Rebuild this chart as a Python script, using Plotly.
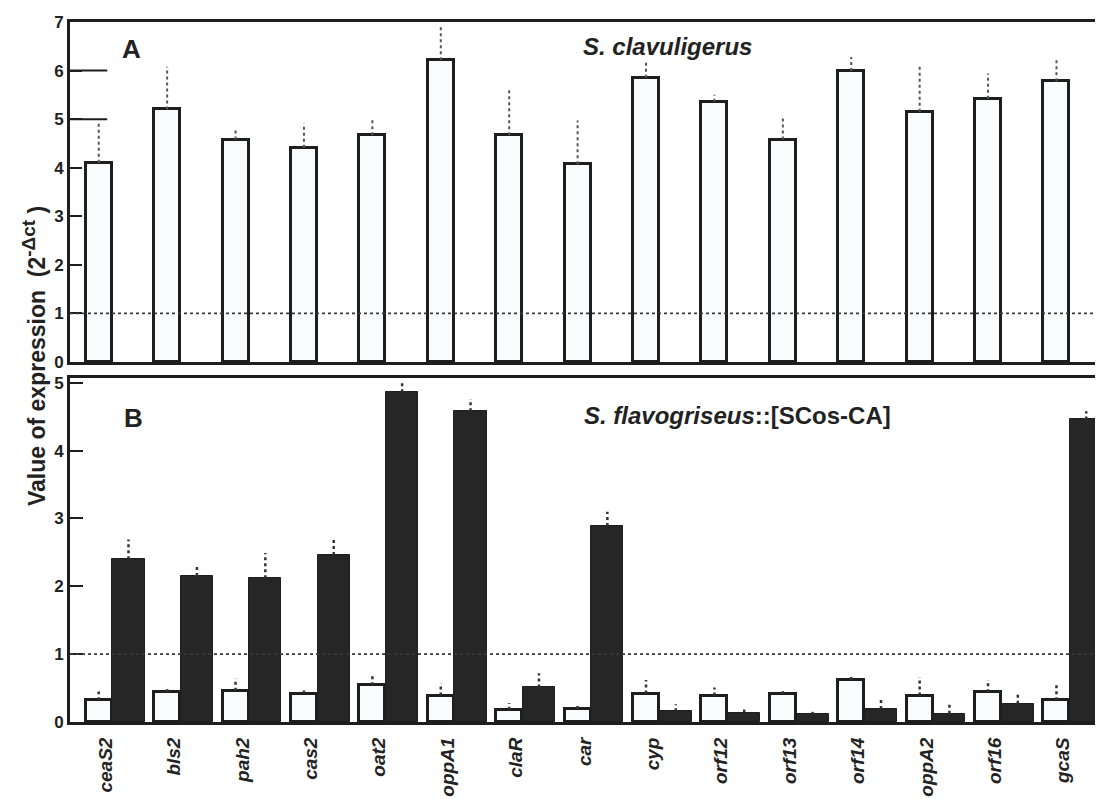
import plotly.graph_objects as go

genes = ["ceaS2", "bls2", "pah2", "cas2", "oat2", "oppA1", "claR", "car",
         "cyp", "orf12", "orf13", "orf14", "oppA2", "orf16", "gcaS"]

# Panel A: S. clavuligerus
a_vals = [4.10, 5.20, 4.58, 4.41, 4.67, 6.21, 4.67, 4.07, 5.85, 5.36, 4.58, 5.99, 5.15, 5.42, 5.78]
a_err = [0.83, 0.88, 0.25, 0.50, 0.31, 0.69, 0.96, 0.90, 0.33, 0.14, 0.48, 0.29, 0.97, 0.52, 0.48]

# Panel B: S. flavogriseus::[SCos-CA]  (white = first series, black = second series)
b_white = [0.32, 0.44, 0.46, 0.42, 0.54, 0.39, 0.18, 0.19, 0.42, 0.39, 0.41, 0.62, 0.39, 0.44, 0.32]
b_white_err = [0.13, 0.06, 0.18, 0.07, 0.14, 0.18, 0.10, 0.09, 0.20, 0.12, 0.08, 0.06, 0.27, 0.18, 0.25]
b_black = [2.40, 2.15, 2.12, 2.46, 4.86, 4.58, 0.51, 2.89, 0.16, 0.14, 0.12, 0.19, 0.12, 0.27, 4.46]
b_black_err = [0.29, 0.14, 0.37, 0.25, 0.14, 0.18, 0.21, 0.21, 0.10, 0.07, 0.03, 0.18, 0.16, 0.17, 0.12]

a_yticks = [0, 1, 2, 3, 4, 5, 6, 7]
b_yticks = [0, 1, 2, 3, 4, 5]

FONT = "Liberation Sans, Arial, sans-serif"
WHITE = "#f9fcfc"
DARK = "#262626"
EDGE = "#1e1e1e"

idx = list(range(len(genes)))
W_OFF, W_W = -0.19, 0.38
K_OFF, K_W = 0.20, 0.47


def err_lines(xs, vals, errs):
    x, y = [], []
    for xi, v, e in zip(xs, vals, errs):
        x += [xi, xi, None]
        y += [v, v + e, None]
    return x, y


fig = go.Figure()

# Panel A bars
fig.add_trace(go.Bar(x=idx, y=a_vals, offset=W_OFF, width=W_W,
                     marker=dict(color=WHITE, line=dict(color=EDGE, width=3)),
                     xaxis="x", yaxis="y", showlegend=False))
ex, ey = err_lines(idx, a_vals, a_err)
fig.add_trace(go.Scatter(x=ex, y=ey, mode="lines",
                         line=dict(color="#555555", width=2, dash="dot"),
                         xaxis="x", yaxis="y", showlegend=False))

# Panel B bars
fig.add_trace(go.Bar(x=idx, y=b_white, offset=W_OFF, width=W_W,
                     marker=dict(color=WHITE, line=dict(color=EDGE, width=3)),
                     xaxis="x2", yaxis="y2", showlegend=False))
fig.add_trace(go.Bar(x=idx, y=b_black, offset=K_OFF, width=K_W,
                     marker=dict(color=DARK, line=dict(color=EDGE, width=1)),
                     xaxis="x2", yaxis="y2", showlegend=False))
ex, ey = err_lines(idx, b_white, b_white_err)
fig.add_trace(go.Scatter(x=ex, y=ey, mode="lines",
                         line=dict(color="#333333", width=2.5, dash="dot"),
                         xaxis="x2", yaxis="y2", showlegend=False))
kx = [i + K_OFF + K_W / 2 for i in idx]
ex, ey = err_lines(kx, b_black, b_black_err)
fig.add_trace(go.Scatter(x=ex, y=ey, mode="lines",
                         line=dict(color="#333333", width=2.5, dash="dot"),
                         xaxis="x2", yaxis="y2", showlegend=False))

# page offset of the plot div (default 8px body margin)
OX, OY = 8, 8
H, Wd = 799, 1103
L_PX, R_PX = 70, 1103          # plot area left/right in page pixels
PW = R_PX - L_PX


def py(p):
    return 1 - (p - OY) / H


def px(p):
    return (p - L_PX) / PW


domA = [py(362), py(22)]
domB = [py(722), py(378)]
xr = [-0.42, 14.68]

axis_line = dict(showline=True, linecolor=EDGE, linewidth=3, showgrid=False, zeroline=False,
                 automargin=False)
tick_font = dict(size=17, family=FONT, weight="bold", color="#222222")

fig.update_layout(
    width=Wd, height=H,
    margin=dict(l=L_PX - OX, r=Wd - (R_PX - OX), t=0, b=0, autoexpand=False),
    paper_bgcolor="white", plot_bgcolor="white",
    bargap=0,
    font=dict(family=FONT, color="#222222"),
    xaxis=dict(domain=[0, 1], anchor="y", range=xr, mirror=True, showticklabels=False,
               ticks="", **axis_line),
    yaxis=dict(domain=domA, anchor="x", range=[0, 7], tickvals=a_yticks,
               ticks="inside", ticklen=12, tickwidth=2, tickcolor=EDGE,
               ticklabelstandoff=0, tickfont=tick_font, **axis_line),
    xaxis2=dict(domain=[0, 1], anchor="y2", range=xr, mirror=True,
                tickvals=[i + 0.1 for i in idx], ticktext=genes, tickangle=-90,
                ticks="", ticklabelstandoff=5,
                tickfont=dict(size=19, family=FONT, weight="bold", style="italic", color="#222222"),
                **axis_line),
    yaxis2=dict(domain=domB, anchor="x2", range=[0, 5.07], tickvals=b_yticks,
                ticks="inside", ticklen=13, tickwidth=2, tickcolor=EDGE,
                ticklabelstandoff=0, tickfont=tick_font, **axis_line),
)

# reference lines at 1 (dotted)
for xa, ya in (("x", "y"), ("x2", "y2")):
    fig.add_shape(type="line", xref=f"{xa} domain", yref=ya, x0=0, x1=1, y0=1, y1=1,
                  line=dict(color="#3a3a3a", width=1.8, dash="dot"), layer="above")

# long ticks at 5 and 6 in panel A
for t in (5, 6):
    fig.add_shape(type="line", xref="x domain", yref="y", x0=0, x1=0.036, y0=t, y1=t,
                  line=dict(color=EDGE, width=2))

ann_font = dict(family=FONT, color="#222222")
fig.add_annotation(text="<b>A</b>", xref="paper", yref="paper", x=px(131), y=py(49),
                   showarrow=False, font=dict(size=26, **ann_font), xanchor="center", yanchor="middle")
fig.add_annotation(text="<b>B</b>", xref="paper", yref="paper", x=px(133), y=py(418),
                   showarrow=False, font=dict(size=26, **ann_font), xanchor="center", yanchor="middle")
fig.add_annotation(text="<b><i>S. clavuligerus</i></b>", xref="paper", yref="paper",
                   x=px(667), y=py(46), showarrow=False,
                   font=dict(size=24, **ann_font), xanchor="center", yanchor="middle")
fig.add_annotation(text="<b><i>S. flavogriseus</i>::[SCos-CA]</b>", xref="paper", yref="paper",
                   x=px(737), y=py(416), showarrow=False,
                   font=dict(size=24, **ann_font), xanchor="center", yanchor="middle")
fig.add_annotation(text="<b>Value of expression  (2<sup><span style='font-size:19px'>-Δct</span></sup> )</b>",
                   xref="paper", yref="paper",
                   x=px(34), y=py(356), showarrow=False, textangle=-90,
                   font=dict(size=23, **ann_font), xanchor="center", yanchor="middle")

fig.write_html("out.html")
